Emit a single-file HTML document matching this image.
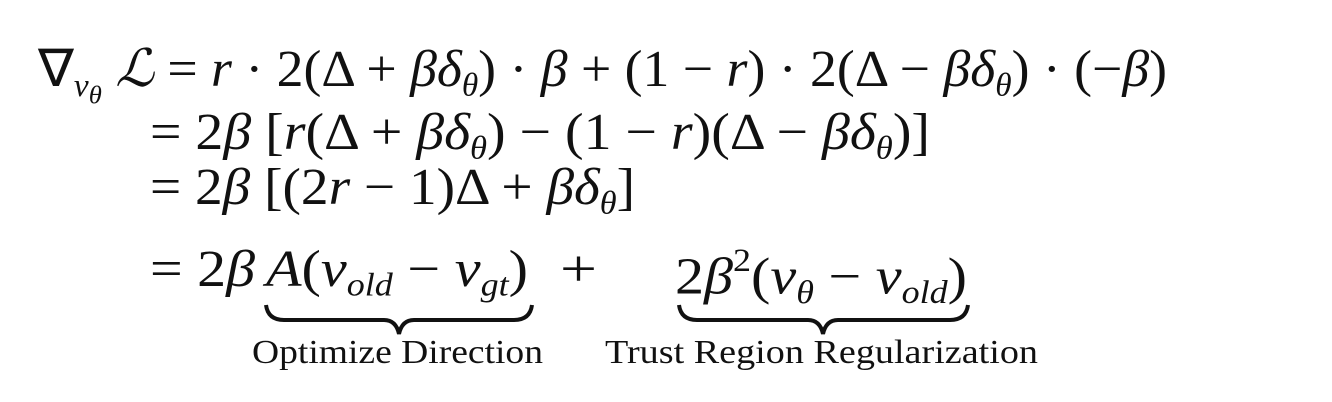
<!DOCTYPE html>
<html><head><meta charset="utf-8"><style>
html,body{margin:0;padding:0;background:#fff;width:1332px;height:402px;overflow:hidden}
.t{position:absolute;white-space:nowrap;font-family:"Liberation Serif",serif;font-size:52px;color:#111;transform-origin:0 0;line-height:1}
i{font-style:italic;font-family:"Liberation Serif",serif}
sub{font-size:0.62em;vertical-align:-0.3em;font-style:italic}
sup{font-size:0.62em;vertical-align:0.7em}
.lab{font-size:34px}
</style></head><body>
<div class="t" id="l1" style="left:38px;top:44px">∇<sub>v<sub style="font-size:0.8em">θ</sub></sub> <i>ℒ</i> = <i>r</i> · 2(Δ + <i>βδ</i><sub>θ</sub>) · <i>β</i> + (1 − <i>r</i>) · 2(Δ − <i>βδ</i><sub>θ</sub>) · (−<i>β</i>)</div>
<div class="t" id="l2" style="left:150px;top:107px">= 2<i>β</i> [<i>r</i>(Δ + <i>βδ</i><sub>θ</sub>) − (1 − <i>r</i>)(Δ − <i>βδ</i><sub>θ</sub>)]</div>
<div class="t" id="l3" style="left:150px;top:162px">= 2<i>β</i> [(2<i>r</i> − 1)Δ + <i>βδ</i><sub>θ</sub>]</div>
<div class="t" id="l4a" style="left:150px;top:244px">= 2<i>β</i></div>
<div class="t" id="l4b" style="left:266px;top:244px"><i>A</i>(<i>v</i><sub>old</sub> − <i>v</i><sub>gt</sub>)</div>
<div class="t" id="l4c" style="left:560px;top:244px">+</div>
<div class="t" id="l4d" style="left:675px;top:244px">2<i>β</i><sup>2</sup>(<i>v</i><sub>θ</sub> − <i>v</i><sub>old</sub>)</div>
<div class="t lab" id="a1" style="left:252px;top:336px">Optimize Direction</div>
<div class="t lab" id="a2" style="left:605px;top:336px">Trust Region Regularization</div>
<svg width="1332" height="402" style="position:absolute;left:0;top:0" fill="none" stroke="#111" stroke-width="4">
<path d="M266 305 Q268 320 284 320 L384 320 Q396 320 399 334 Q402 320 414 320 L514 320 Q530 320 532 305"/>
<path d="M679 305 Q681 320 697 320 L808 320 Q820 320 823 334 Q826 320 838 320 L950 320 Q966 320 968 305"/>
</svg>
<script>
var w={l1:1129,l2:780,l3:485,l4a:105,l4b:262,l4c:37,l4d:292,a1:291,a2:433};
for(var k in w){var e=document.getElementById(k);var r=e.getBoundingClientRect().width;e.style.transform="scaleX("+(w[k]/r)+")";}
</script>
</body></html>
